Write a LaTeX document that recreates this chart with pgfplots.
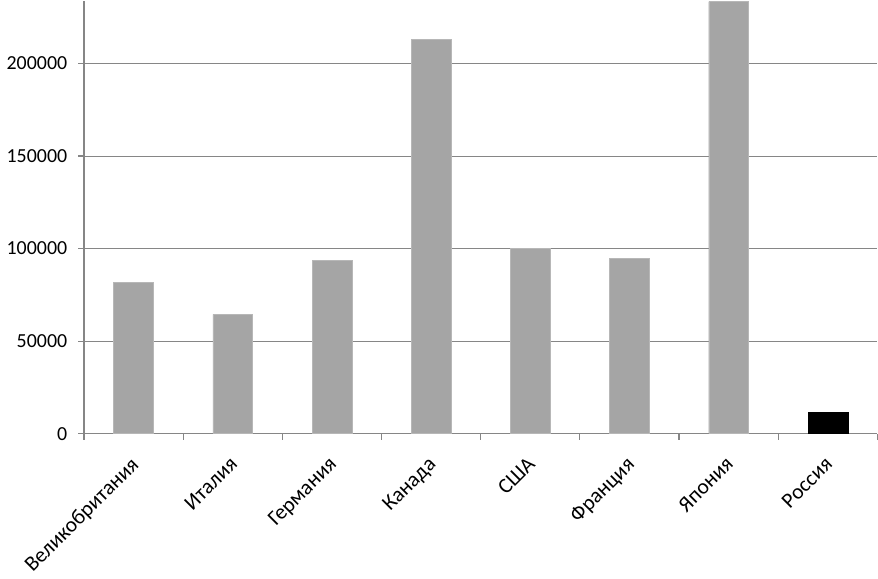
\documentclass[border=0pt]{standalone}
\usepackage{pgfplots}
\pgfplotsset{compat=1.18}
\usepackage{fontspec}
\setmainfont{Carlito}
\definecolor{bargray}{HTML}{A5A5A5}
\definecolor{axgray}{HTML}{868686}
\begin{document}
\fontsize{20bp}{24bp}\selectfont
\begin{tikzpicture}
\begin{axis}[
    scale only axis,
    width=797bp, height=435bp,
    xmin=-0.5, xmax=7.5,
    ymin=0, ymax=234000,
    axis lines=left,
    axis line style={-, axgray, line width=1.2bp},
    ybar, bar width=40bp, bar shift=0pt,
    xtick={0,...,7},
    xticklabels={Великобритания,Италия,Германия,Канада,США,Франция,Япония,Россия},
    minor xtick={-0.5,0.5,...,7.5},
    major x tick style={draw=none},
    minor x tick style={axgray, line width=1.2bp},
    minor tick length=6bp,
    ytick={0,50000,100000,150000,200000},
    scaled y ticks=false,
    major tick length=6bp,
    y tick style={axgray, line width=1.2bp},
    tick align=outside,
    ymajorgrids,
    grid style={axgray, line width=1.1bp},
    yticklabel style={/pgf/number format/1000 sep={}, /pgf/number format/fixed, /pgf/number format/assume math mode=true, xshift=-4bp, font=\fontsize{20bp}{24bp}\selectfont},
    xticklabel style={anchor=north east, inner sep=2bp, xshift=-4bp, yshift=-13bp, rotate=45, font=\fontsize{21.5bp}{25bp}\selectfont},
    clip=false,
]
\addplot[fill=bargray, draw=bargray!80!white] coordinates {
    (0,81700) (1,64500) (2,93500) (3,212900) (4,100000) (5,94600) (6,233500)
};
\addplot[fill=black, draw=black] coordinates {(7,11800)};
\end{axis}
\end{tikzpicture}
\end{document}
